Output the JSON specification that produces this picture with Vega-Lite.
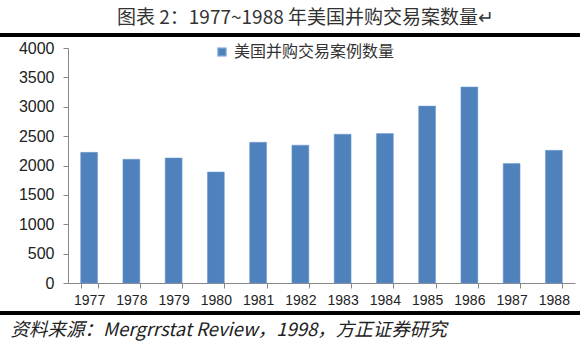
{
  "$schema": "https://vega.github.io/schema/vega-lite/v6.json",
  "autosize": {"type": "none"},
  "width": 507,
  "height": 235,
  "padding": {"left": 68, "top": 48, "right": 5, "bottom": 76},
  "background": "white",
  "config": {
    "view": {"stroke": null},
    "axisY": {
      "title": null,
      "grid": false,
      "labelFont": "Liberation Sans",
      "labelFontSize": 16,
      "labelColor": "#222222",
      "labelPadding": 9,
      "labelOverlap": false,
      "domainColor": "#888888",
      "tickColor": "#888888",
      "tickSize": 5,
      "tickCount": 8,
      "format": "d"
    }
  },
  "title": {
    "text": "图表 2：1977~1988 年美国并购交易案数量↵",
    "font": "Noto Sans CJK SC",
    "fontSize": 19,
    "fontWeight": "normal",
    "color": "#333333",
    "anchor": "middle",
    "dx": -16,
    "offset": 6
  },
  "data": {
    "values": [
      {"year": "1977", "count": 2224, "series": "美国并购交易案例数量"},
      {"year": "1978", "count": 2106, "series": "美国并购交易案例数量"},
      {"year": "1979", "count": 2128, "series": "美国并购交易案例数量"},
      {"year": "1980", "count": 1889, "series": "美国并购交易案例数量"},
      {"year": "1981", "count": 2395, "series": "美国并购交易案例数量"},
      {"year": "1982", "count": 2346, "series": "美国并购交易案例数量"},
      {"year": "1983", "count": 2533, "series": "美国并购交易案例数量"},
      {"year": "1984", "count": 2543, "series": "美国并购交易案例数量"},
      {"year": "1985", "count": 3011, "series": "美国并购交易案例数量"},
      {"year": "1986", "count": 3336, "series": "美国并购交易案例数量"},
      {"year": "1987", "count": 2032, "series": "美国并购交易案例数量"},
      {"year": "1988", "count": 2258, "series": "美国并购交易案例数量"}
    ]
  },
  "layer": [
    {
      "mark": {"type": "bar", "color": "#4f81bd", "stroke": "#6f9ad0", "strokeWidth": 0.5},
      "encoding": {
        "x": {
          "field": "year",
          "type": "ordinal",
          "scale": {"paddingInner": 0.6, "paddingOuter": 0.3},
          "axis": {
            "title": "资料来源：Mergrrstat Review，1998，方正证券研究",
            "titleFont": "Noto Sans CJK SC",
            "titleFontStyle": "italic",
            "titleFontWeight": "normal",
            "titleFontSize": 18.5,
            "titleColor": "#222222",
            "titleX": -58,
            "titleY": 46,
            "titleAlign": "left",
            "titleBaseline": "middle",
            "labelAngle": 0,
            "labelFont": "Liberation Sans",
            "labelFontSize": 14,
            "labelColor": "#222222",
            "labelPadding": 5,
            "domainColor": "#888888",
            "tickColor": "#888888",
            "tickSize": 5,
            "tickBand": "extent"
          }
        },
        "y": {
          "field": "count",
          "type": "quantitative",
          "scale": {"domain": [0, 4000], "nice": false, "zero": false}
        },
        "color": {
          "field": "series",
          "type": "nominal",
          "scale": {"range": ["#4f81bd"]},
          "legend": {
            "title": null,
            "orient": "none",
            "legendX": 146,
            "legendY": -4,
            "symbolType": "square",
            "symbolSize": 60,
            "labelLimit": 0,
            "labelFont": "Noto Sans CJK SC",
            "labelFontSize": 16,
            "labelColor": "#333333"
          }
        }
      }
    },
    {
      "mark": {"type": "rule", "color": "#000000", "strokeWidth": 3, "clip": false, "orient": "horizontal"},
      "encoding": {
        "y": {"datum": 4221, "type": "quantitative"},
        "x": {"value": -68},
        "x2": {"value": 512}
      }
    },
    {
      "mark": {"type": "rect", "color": "#000000", "clip": false},
      "encoding": {
        "y": {"datum": -485, "type": "quantitative"},
        "y2": {"datum": -536},
        "x": {"value": -68},
        "x2": {"value": 512}
      }
    }
  ]
}
